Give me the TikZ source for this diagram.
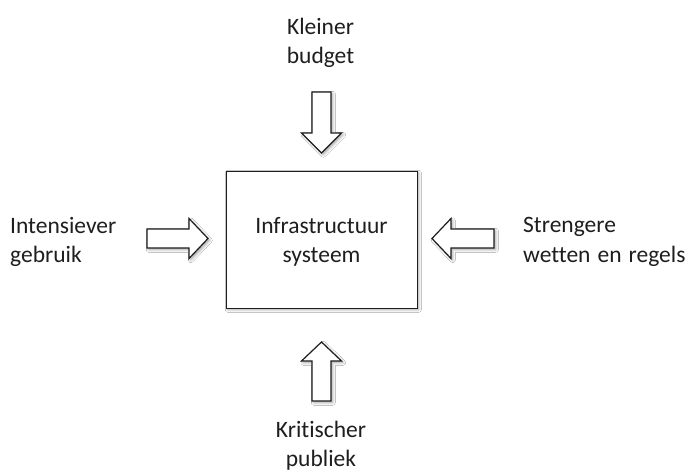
\documentclass[tikz,border=0pt]{standalone}
\usepackage{fontspec}
\setmainfont{Carlito}[Ligatures=NoCommon]
\usetikzlibrary{shadows.blur}
\definecolor{ink}{HTML}{1E1E1E}
\newcommand\mywidespace{\spaceskip=0.3em plus 0.1em\relax}
\tikzset{
  lbl/.style={font=\fontsize{23.5}{29.5}\selectfont, text=ink, inner sep=0pt},
  blockarrow/.style={draw=ink, line width=1.2pt, fill=white, line join=miter,
    blur shadow={shadow xshift=1.8pt, shadow yshift=-1.8pt, shadow blur radius=2.5pt, shadow opacity=35}},
  sysbox/.style={draw=ink, line width=1pt, fill=white, minimum width=191pt, minimum height=137pt,
    blur shadow={shadow xshift=1.8pt, shadow yshift=-1.8pt, shadow blur radius=2.5pt, shadow opacity=35}}
}
\begin{document}
\begin{tikzpicture}[x=1pt,y=-1pt]
\useasboundingbox[fill=white] (0,0) rectangle (692,471);
% central system box
\node[sysbox] (sys) at (321.5,239.5) {};
\node[lbl, align=center] (systxt) at (321.5,242) {Infrastructuur\\systeem};
% labels
\node[lbl, align=center] (top) at (320.5,43) {Kleiner\\budget};
\node[lbl, align=left, anchor=west] (left) at (10,242) {Intensiever\\gebruik};
\node[lbl, align=left, anchor=west, font=\fontsize{23.5}{29.5}\selectfont\mywidespace] (right) at (523,242) {Strengere\\wetten en regels};
\node[lbl, align=center] (bottom) at (321,445.5) {Kritischer\\publiek};
% block arrows
\draw[blockarrow] (312,92) -- (331,92) -- (331,133) -- (341.5,133) -- (321.5,153) -- (301.5,133) -- (312,133) -- cycle;
\draw[blockarrow] (312,401) -- (331,401) -- (331,361) -- (341.5,361) -- (321.5,342) -- (301.5,361) -- (312,361) -- cycle;
\draw[blockarrow] (147,229) -- (189,229) -- (189,218.5) -- (208,238.5) -- (189,258.5) -- (189,248) -- (147,248) -- cycle;
\draw[blockarrow] (494,229) -- (451,229) -- (451,218.5) -- (432,238.5) -- (451,258.5) -- (451,248) -- (494,248) -- cycle;
\end{tikzpicture}
\end{document}
